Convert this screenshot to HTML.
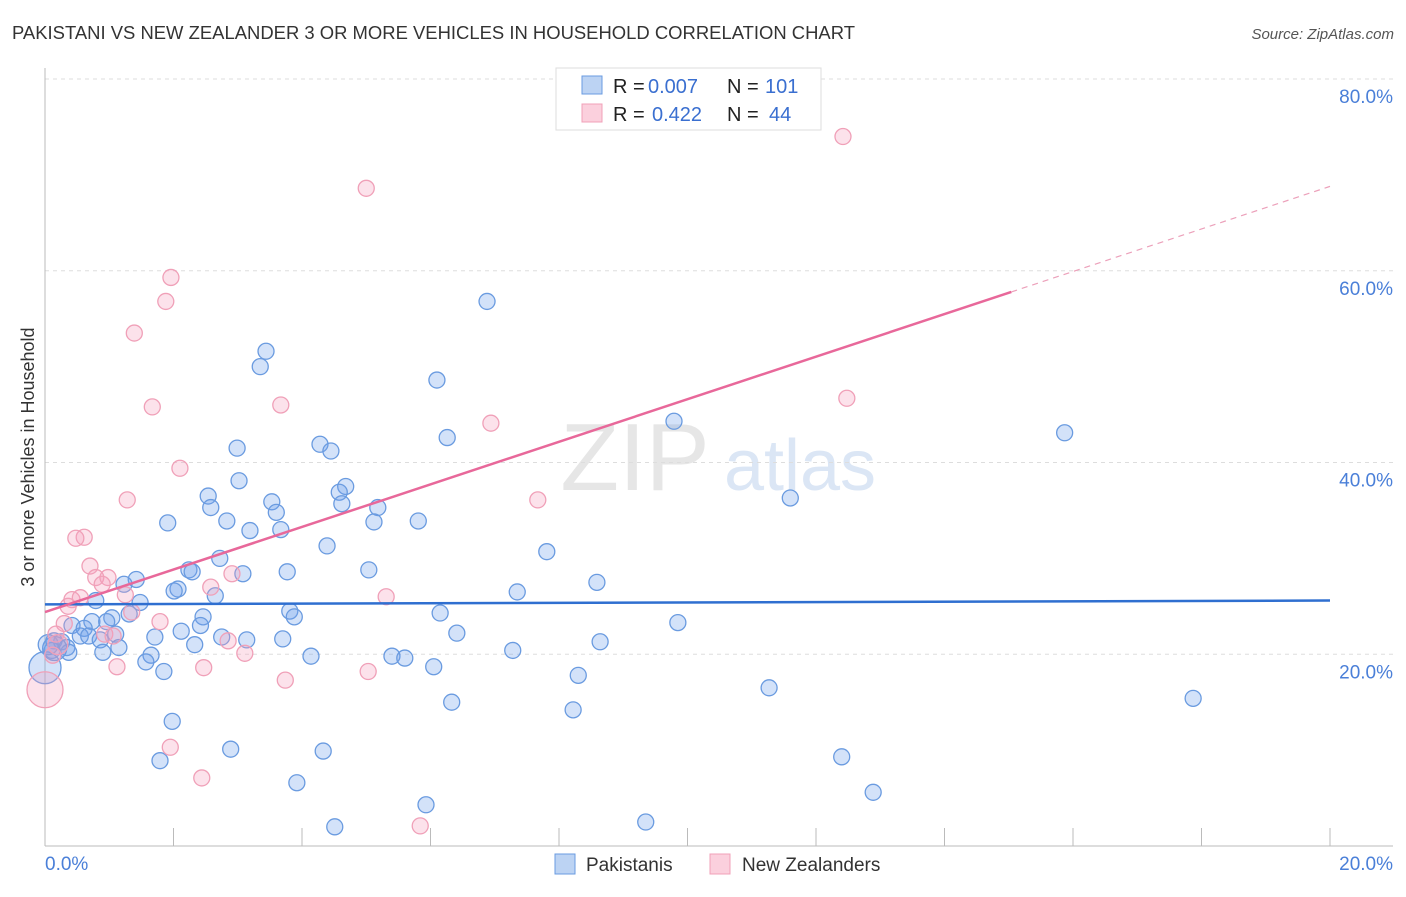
<!DOCTYPE html>
<html><head><meta charset="utf-8"><style>
body{margin:0;background:#fff;font-family:"Liberation Sans",sans-serif}
svg text{font-family:"Liberation Sans",sans-serif}
</style></head><body>
<svg id="chart" width="1406" height="892" xmlns="http://www.w3.org/2000/svg">
<text x="12" y="39" font-size="18" fill="#333" textLength="843" lengthAdjust="spacingAndGlyphs">PAKISTANI VS NEW ZEALANDER 3 OR MORE VEHICLES IN HOUSEHOLD CORRELATION CHART</text>
<text x="1394" y="39" font-size="15" fill="#555" font-style="italic" text-anchor="end">Source: ZipAtlas.com</text>
<text x="635" y="490" font-size="96" fill="#e6e6e6" font-family="Liberation Serif" text-anchor="middle">ZIP</text>
<text x="800" y="490" font-size="72" fill="#dbe6f5" text-anchor="middle">atlas</text>
<text transform="translate(34,457) rotate(-90)" font-size="18" fill="#333" text-anchor="middle">3 or more Vehicles in Household</text>
<g id="grid"></g><g id="pts"></g><g id="lines"></g>
<g>
<rect x="556" y="68" width="265" height="62" fill="#fff" stroke="#ddd"/>
<rect x="582" y="76" width="20" height="18" fill="#bcd3f3" stroke="#6a9be0"/>
<rect x="582" y="104" width="20" height="18" fill="#fbd0dd" stroke="#f0a0b8"/>
<text x="613" y="93" font-size="20" fill="#222">R =</text>
<text x="648" y="93" font-size="20" fill="#3a6fd0">0.007</text>
<text x="727" y="93" font-size="20" fill="#222">N =</text>
<text x="765" y="93" font-size="20" fill="#3a6fd0">101</text>
<text x="613" y="121" font-size="20" fill="#222">R =</text>
<text x="652" y="121" font-size="20" fill="#3a6fd0">0.422</text>
<text x="727" y="121" font-size="20" fill="#222">N =</text>
<text x="769" y="121" font-size="20" fill="#3a6fd0">44</text>
</g>
<g>
<rect x="555" y="854" width="20" height="20" fill="#bcd3f3" stroke="#6a9be0"/>
<text x="586" y="871" font-size="19" fill="#333">Pakistanis</text>
<rect x="710" y="854" width="20" height="20" fill="#fbd0dd" stroke="#f0a0b8"/>
<text x="742" y="871" font-size="19" fill="#333">New Zealanders</text>
</g>
</svg>
<script>
const yTicks=[20,40,60,80];
const xTickLabels=["0.0%","20.0%"];
const blueX=[6.88,3.44,3.35,6.10,9.79,6.26,15.87,4.28,4.45,2.99,3.02,4.68,4.58,2.54,3.53,4.62,2.58,5.18,3.60,5.12,5.81,1.91,2.83,3.19,3.67,4.39,11.60,7.81,2.72,5.04,3.77,2.24,2.29,3.08,8.59,1.42,1.23,2.07,2.01,7.35,2.65,0.79,1.48,1.31,3.81,3.88,6.15,2.46,1.04,0.73,0.96,9.85,2.42,0.42,0.61,2.12,6.41,1.10,0.55,0.68,1.71,2.75,3.14,3.70,0.14,0.26,8.64,0.86,2.33,1.15,0.34,0.90,0.11,0.37,7.28,4.14,5.40,5.60,1.65,1.57,0.0,6.05,1.85,8.30,11.27,17.87,6.33,8.22,1.98,2.89,4.33,1.79,12.40,3.92,12.89,5.93,4.51,9.35,0.15,0.05];
const blueY=[56.8,51.6,50.0,48.6,44.3,42.6,43.1,41.9,41.2,41.5,38.1,37.5,36.9,36.5,35.9,35.7,35.3,35.3,34.8,33.8,33.9,33.7,33.9,32.9,33.0,31.3,36.3,30.7,30.0,28.8,28.6,28.8,28.6,28.4,27.5,27.8,27.3,26.8,26.6,26.5,26.1,25.6,25.4,24.2,24.5,23.9,24.3,23.9,23.8,23.4,23.4,23.3,23.0,23.0,22.7,22.4,22.2,22.1,21.9,21.9,21.8,21.8,21.5,21.6,21.4,21.3,21.3,21.5,21.0,20.7,20.7,20.2,20.4,20.2,20.4,19.8,19.8,19.6,19.9,19.2,18.6,18.7,18.2,17.8,16.5,15.4,15.0,14.2,13.0,10.1,9.9,8.9,9.3,6.6,5.6,4.3,2.0,2.5,20.6,21.0];
const blueR=[8,8,8,8,8,8,8,8,8,8,8,8,8,8,8,8,8,8,8,8,8,8,8,8,8,8,8,8,8,8,8,8,8,8,8,8,8,8,8,8,8,8,8,8,8,8,8,8,8,8,8,8,8,8,8,8,8,8,8,8,8,8,8,8,8,8,8,8,8,8,8,8,8,8,8,8,8,8,8,8,16,8,8,8,8,8,8,8,8,8,8,8,8,8,8,8,8,8,12,10];
const pinkX=[12.42,5.0,1.96,1.88,1.39,1.67,3.67,12.48,6.94,2.10,1.28,7.67,0.61,0.48,0.70,2.91,0.79,0.98,0.89,2.58,1.25,5.31,0.42,0.55,0.36,1.35,1.79,0.30,0.93,1.06,0.17,2.85,3.11,0.12,1.12,2.47,5.03,3.74,0.0,1.95,2.44,5.84,0.2];
const pinkY=[74.0,68.6,59.3,56.8,53.5,45.8,46.0,46.7,44.1,39.4,36.1,36.1,32.2,32.1,29.2,28.4,28.0,28.0,27.3,27.0,26.2,26.0,25.7,25.9,25.0,24.4,23.4,23.2,22.1,21.9,22.1,21.4,20.1,19.9,18.7,18.6,18.2,17.3,16.3,10.3,7.1,2.1,21.0];
const pinkR=[8,8,8,8,8,8,8,8,8,8,8,8,8,8,8,8,8,8,8,8,8,8,8,8,8,8,8,8,8,8,8,8,8,8,8,8,8,8,18,8,8,8,10];
const blueFit=[25.2,25.6];
const pinkFit=[24.4,68.8];
const pinkSolidEnd=15.04;
const NS="http://www.w3.org/2000/svg";
const X0=45,X1=1330,Y0=846,Y80=79;
const sx=v=>X0+v/20*(X1-X0);
const sy=v=>Y0-v/80*(Y0-Y80);
function mk(tag,attrs,parent){const e=document.createElementNS(NS,tag);for(const k in attrs)e.setAttribute(k,attrs[k]);parent.appendChild(e);return e;}
const grid=document.getElementById('grid');
yTicks.forEach(t=>{
  const l=mk('line',{x1:X0,x2:1393,y1:sy(t),y2:sy(t),stroke:'#ddd','stroke-dasharray':'4,4'},grid);
  
  
  const tx=mk('text',{x:1393,y:sy(t)+24,'font-size':19,fill:'#4a7fd8','text-anchor':'end'},grid);
  tx.textContent=t.toFixed(1)+'%';
  
  
});
const ax=mk('line',{x1:X0,x2:X0,y1:68,y2:Y0,stroke:'#bbb'},grid);


const bx=mk('line',{x1:X0,x2:1393,y1:Y0,y2:Y0,stroke:'#bbb'},grid);


for(let i=1;i<=10;i++){const v=i*2;const t=mk('line',{x1:sx(v),x2:sx(v),y1:828,y2:Y0,stroke:'#bbb'},grid);
  
  }
[[0,'start',45],[20,'end',1393]].forEach((d,i)=>{const t=mk('text',{x:d[2],y:870,'font-size':19,fill:'#4a7fd8','text-anchor':d[1]},grid);t.textContent=xTickLabels[i];
  
  });
const pts=document.getElementById('pts');
blueX.forEach((x,i)=>{const c=mk('circle',{cx:sx(x),cy:sy(blueY[i]),r:blueR[i],fill:'rgba(110,160,235,0.3)',stroke:'#6a9be0','stroke-width':1.3},pts);
  
  });
pinkX.forEach((x,i)=>{const c=mk('circle',{cx:sx(x),cy:sy(pinkY[i]),r:pinkR[i],fill:'rgba(245,160,190,0.3)',stroke:'#f0a0b8','stroke-width':1.3},pts);
  
  });
const lines=document.getElementById('lines');
const bl=mk('line',{x1:sx(0),y1:sy(blueFit[0]),x2:sx(20),y2:sy(blueFit[1]),stroke:'#2f6fd0','stroke-width':2.5},lines);


const pm=v=>pinkFit[0]+(pinkFit[1]-pinkFit[0])*v/20;
const pl=mk('line',{x1:sx(0),y1:sy(pm(0)),x2:sx(pinkSolidEnd),y2:sy(pm(pinkSolidEnd)),stroke:'#e8689a','stroke-width':2.5},lines);


const pd=mk('line',{x1:sx(pinkSolidEnd),y1:sy(pm(pinkSolidEnd)),x2:sx(20),y2:sy(pm(20)),stroke:'#eca0ba','stroke-width':1.2,'stroke-dasharray':'6,5'},lines);


</script>
</body></html>
